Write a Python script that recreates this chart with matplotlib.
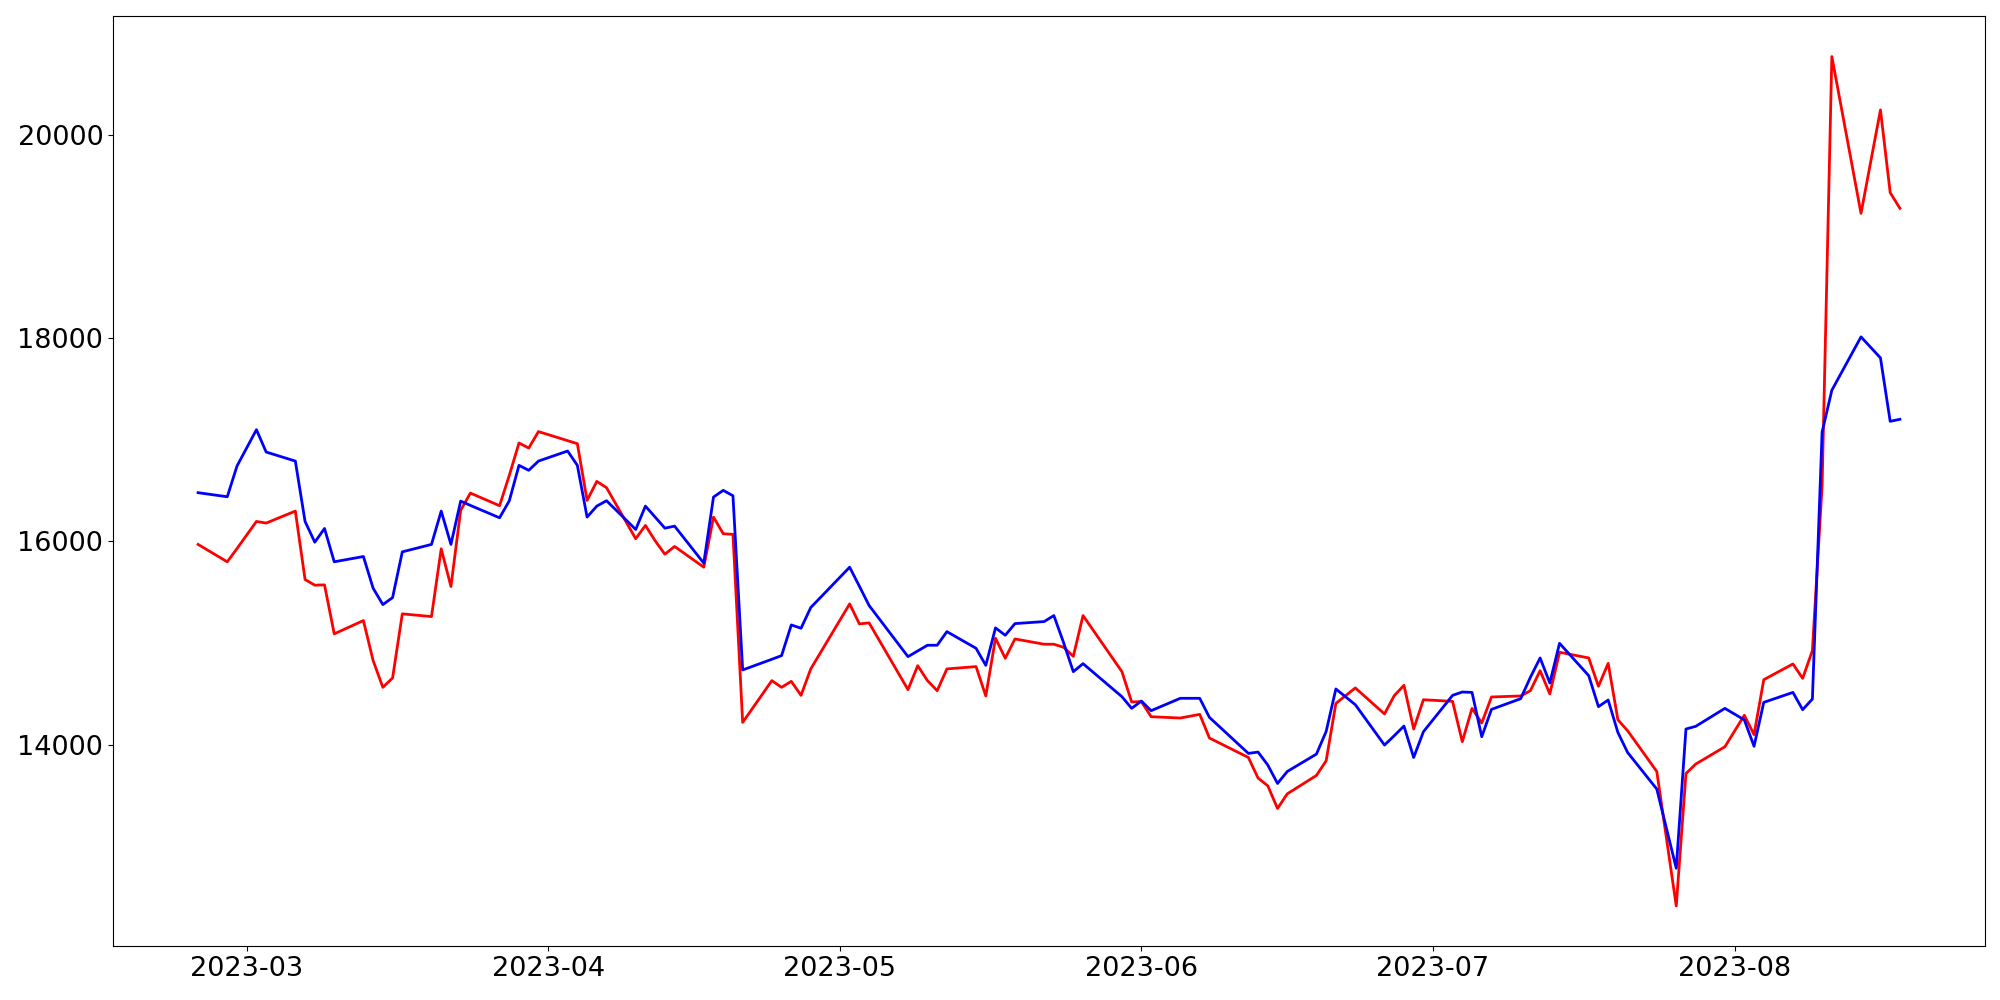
import pandas as pd
import matplotlib
matplotlib.use("Agg")
import matplotlib.pyplot as plt
import matplotlib.dates as mdates
from matplotlib.ticker import MultipleLocator


# trading days
dates = [
    "2023-02-24", "2023-02-27", "2023-02-28", "2023-03-02", "2023-03-03",
    "2023-03-06", "2023-03-07", "2023-03-08", "2023-03-09", "2023-03-10",
    "2023-03-13", "2023-03-14", "2023-03-15", "2023-03-16", "2023-03-17",
    "2023-03-20", "2023-03-21", "2023-03-22", "2023-03-23", "2023-03-24",
    "2023-03-27", "2023-03-28", "2023-03-29", "2023-03-30", "2023-03-31",
    "2023-04-03", "2023-04-04", "2023-04-05", "2023-04-06", "2023-04-07",
    "2023-04-10", "2023-04-11", "2023-04-12", "2023-04-13", "2023-04-14",
    "2023-04-17", "2023-04-18", "2023-04-19", "2023-04-20", "2023-04-21",
    "2023-04-24", "2023-04-25", "2023-04-26", "2023-04-27", "2023-04-28",
    "2023-05-02", "2023-05-03", "2023-05-04", "2023-05-08", "2023-05-09",
    "2023-05-10", "2023-05-11", "2023-05-12", "2023-05-15", "2023-05-16",
    "2023-05-17", "2023-05-18", "2023-05-19", "2023-05-22", "2023-05-23",
    "2023-05-24", "2023-05-25", "2023-05-26", "2023-05-30", "2023-05-31",
    "2023-06-01", "2023-06-02", "2023-06-05", "2023-06-07", "2023-06-08",
    "2023-06-12", "2023-06-13", "2023-06-14", "2023-06-15", "2023-06-16",
    "2023-06-19", "2023-06-20", "2023-06-21", "2023-06-23", "2023-06-26",
    "2023-06-27", "2023-06-28", "2023-06-29", "2023-06-30", "2023-07-03",
    "2023-07-04", "2023-07-05", "2023-07-06", "2023-07-07", "2023-07-10",
    "2023-07-11", "2023-07-12", "2023-07-13", "2023-07-14", "2023-07-17",
    "2023-07-18", "2023-07-19", "2023-07-20", "2023-07-21", "2023-07-24",
    "2023-07-26", "2023-07-27", "2023-07-28", "2023-07-31", "2023-08-02",
    "2023-08-03", "2023-08-04", "2023-08-07", "2023-08-08", "2023-08-09",
    "2023-08-10", "2023-08-11", "2023-08-14", "2023-08-16", "2023-08-17",
    "2023-08-18",
]

red_values = [
    15971, 15800, 15930, 16197, 16181,
    16299, 15626, 15570, 15573, 15091,
    15222, 14828, 14565, 14657, 15288,
    15261, 15928, 15557, 16306, 16476,
    16352, 16650, 16969, 16919, 17081,
    16992, 16962, 16404, 16591, 16529,
    16027, 16158, 16007, 15875, 15951,
    15747, 16240, 16076, 16070, 14220,
    14631, 14565, 14624, 14486, 14746,
    15386, 15189, 15199, 14542, 14778,
    14631, 14532, 14746, 14769, 14480,
    15048, 14851, 15041, 14989, 14989,
    14959, 14870, 15271, 14719, 14421,
    14425, 14276, 14263, 14299, 14066,
    13875, 13672, 13596, 13373, 13517,
    13698, 13842, 14407, 14559, 14303,
    14483, 14585, 14155, 14443, 14427,
    14030, 14358, 14214, 14470, 14480,
    14532, 14729, 14500, 14910, 14854,
    14575, 14801, 14246, 14138, 13737,
    12414, 13717, 13810, 13980, 14290,
    14100, 14640, 14795, 14653, 14926,
    16550, 20771, 19228, 20246, 19432,
    19278,
]

blue_values = [
    16480, 16440, 16742, 17100, 16880,
    16791, 16197, 15993, 16128, 15800,
    15852, 15540, 15379, 15448, 15898,
    15971, 16299, 15971, 16397, 16355,
    16233, 16400, 16749, 16700, 16791,
    16890, 16749, 16240, 16348, 16401,
    16118, 16348, 16240, 16131, 16151,
    15787, 16437, 16503, 16450, 14736,
    14841, 14877, 15179, 15146, 15350,
    15747, 15560, 15370, 14867, 14923,
    14979, 14979, 15113, 14949, 14781,
    15150, 15077, 15192, 15212, 15271,
    15005, 14719, 14798, 14473, 14358,
    14430, 14335, 14457, 14457, 14269,
    13915, 13928, 13800, 13619, 13737,
    13908, 14131, 14549, 14394, 13997,
    14089, 14184, 13875, 14128, 14486,
    14519, 14515, 14079, 14348, 14453,
    14663, 14854, 14608, 14998, 14680,
    14375, 14440, 14121, 13924, 13564,
    12785, 14155, 14181, 14358, 14245,
    13985, 14417, 14515, 14345, 14450,
    17077, 17488, 18013, 17806, 17182,
    17202,
]


def main():
    x = pd.to_datetime(dates)

    fig, ax = plt.subplots(figsize=(20, 10), dpi=100)
    fig.subplots_adjust(left=0.0565, right=0.9925, bottom=0.054, top=0.984)

    ax.plot(x, red_values, color="red", linewidth=2)
    ax.plot(x, blue_values, color="blue", linewidth=2)

    ax.set_ylim(12020, 21170)
    ax.xaxis.set_major_locator(mdates.MonthLocator())
    ax.xaxis.set_major_formatter(mdates.DateFormatter("%Y-%m"))
    ax.yaxis.set_major_locator(MultipleLocator(2000))
    ax.tick_params(axis="both", labelsize=19.5)

    fig.savefig("out.png", dpi=100)


if __name__ == "__main__":
    main()
